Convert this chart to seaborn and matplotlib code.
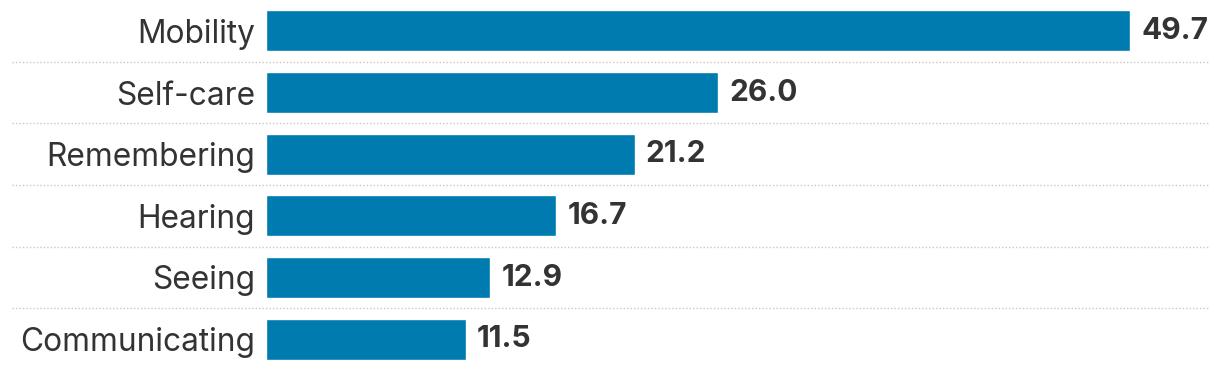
import pandas as pd
import seaborn as sns
import matplotlib.pyplot as plt

# Data
categories = ["Mobility", "Self-care", "Remembering", "Hearing", "Seeing", "Communicating"]
values = [49.7, 26.0, 21.2, 16.7, 12.9, 11.5]

df = pd.DataFrame({"category": categories, "value": values})

sns.set_theme(style="white")
plt.rcParams["font.family"] = ["Inter", "DejaVu Sans"]

fig = plt.figure(figsize=(12.2, 3.7), dpi=100)
ax = fig.add_axes([266 / 1220, 0, 944 / 1220, 1])

sns.barplot(data=df, x="value", y="category", color="#007BAF", saturation=1,
            width=0.66, ax=ax)

ax.set_xlim(0, 54.3)
ax.set_ylim(len(categories) - 0.5, -0.5)

# Value labels
ax.bar_label(ax.containers[0], fmt="%.1f", padding=8, fontsize=21.5,
             fontweight="bold", color="#333333")

# Dotted separators between rows, extending into the label area
for i in range(len(categories) - 1):
    ax.axhline(i + 0.5, xmin=-0.269, xmax=0.998, color="#c8c8c8",
               linestyle=(0, (1, 1.5)), linewidth=1, clip_on=False)

ax.set_xlabel("")
ax.set_ylabel("")
ax.set_xticks([])
ax.tick_params(axis="y", length=0, pad=8, labelsize=22.8, labelcolor="#333333")
sns.despine(ax=ax, left=True, bottom=True)

plt.savefig("out.png", dpi=100)
